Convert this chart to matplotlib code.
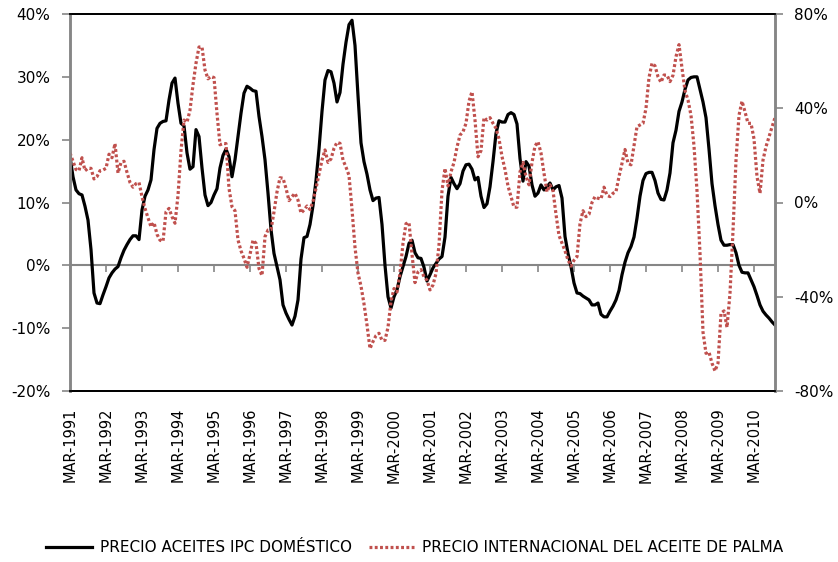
import matplotlib
matplotlib.use("Agg")
import matplotlib.pyplot as plt
from matplotlib.ticker import FuncFormatter

# monthly series, Mar-1991 .. Oct-2010 (% change)
ipc_aceites = [
    17.3, 14.1, 12.0, 11.4, 11.2, 9.4, 7.2, 2.5, -4.4, -6.0,
    -6.1, -4.7, -3.4, -2.0, -1.2, -0.6, -0.2, 1.2, 2.4, 3.3,
    4.1, 4.7, 4.7, 4.1, 8.8, 11.0, 12.0, 13.6, 18.4, 21.8,
    22.6, 22.9, 23.0, 26.3, 29.0, 29.8, 25.8, 22.6, 22.2, 17.9,
    15.3, 15.7, 21.6, 20.5, 15.5, 11.2, 9.5, 10.0, 11.2, 12.2,
    15.5, 17.5, 18.5, 17.3, 14.1, 16.8, 20.5, 24.2, 27.4, 28.5,
    28.2, 27.8, 27.7, 23.7, 20.5, 16.8, 11.5, 5.7, 1.9, -0.2,
    -2.3, -6.3, -7.6, -8.6, -9.5, -8.1, -5.5, 1.0, 4.4, 4.6,
    6.5, 9.5, 13.5, 18.5, 24.5, 29.5, 31.0, 30.8, 29.0, 26.0,
    27.5, 32.0, 35.5, 38.3, 39.0, 35.0, 27.0, 19.5, 16.5, 14.5,
    12.0, 10.3, 10.7, 10.8, 6.5, 0.0, -5.0, -6.8, -5.0, -3.9,
    -1.8, -0.2, 1.4, 3.5, 4.0, 2.0, 1.2, 1.1, -0.3, -2.5,
    -1.5, -0.4, 0.3, 1.0, 1.4, 4.5, 11.0, 14.0, 13.0, 12.2,
    13.0, 15.0, 16.0, 16.1, 15.3, 13.6, 14.0, 11.0, 9.2, 9.8,
    12.5, 16.5, 21.0, 23.0, 22.8, 22.8, 24.0, 24.3, 24.0, 22.5,
    17.0, 13.4, 16.5, 15.8, 12.8, 11.0, 11.5, 12.8, 12.0, 12.5,
    13.1, 12.0, 12.5, 12.7, 10.7, 4.6, 1.9, -0.2, -2.8, -4.4,
    -4.5, -4.9, -5.2, -5.5, -6.3, -6.3, -6.0, -7.8, -8.2, -8.2,
    -7.3, -6.5, -5.5, -4.0, -1.5, 0.5, 2.0, 3.0, 4.5, 7.5,
    11.0, 13.5, 14.6, 14.8, 14.8, 13.5, 11.5, 10.5, 10.4, 12.0,
    14.7, 19.5, 21.5, 24.5, 26.0, 28.0, 29.5, 29.9, 30.0, 30.0,
    28.0, 26.0, 23.5, 18.5, 13.0, 9.5, 6.5, 4.0, 3.2, 3.2,
    3.3, 3.3, 2.0, 0.0, -1.1, -1.2, -1.2, -2.3, -3.4, -4.8,
    -6.3, -7.3, -7.9, -8.4, -9.0, -9.5,
]

palma = [
    21.0, 17.5, 14.0, 13.5, 19.0, 13.5, 14.5, 14.5, 10.0, 11.0,
    13.5, 13.8, 14.5, 20.5, 19.0, 25.0, 12.5, 17.0, 17.5, 12.8,
    8.5, 6.5, 8.0, 8.5, 2.5, -2.5, -6.5, -10.3, -8.5, -13.5,
    -16.0, -16.5, -4.0, -2.5, -6.0, -8.8, 3.0, 22.0, 35.0, 34.0,
    39.2, 50.0, 59.1, 66.0, 66.0, 56.2, 52.5, 53.5, 53.0, 37.8,
    24.5, 25.0, 25.0, 6.0, -1.8, -3.5, -15.9, -20.5, -23.7, -27.5,
    -22.0, -16.0, -17.3, -28.0, -31.0, -14.5, -11.7, -11.5, -4.0, 4.5,
    10.5, 10.3, 6.0, 0.8, 2.5, 3.9, 1.0, -4.5, -3.2, -1.5,
    -3.0, 0.5, 6.0, 12.0, 18.0, 22.3, 17.0, 18.5, 23.0, 25.5,
    25.1, 18.0, 15.0, 11.5, -3.0, -19.0, -30.0, -35.5, -43.0, -52.0,
    -62.0, -59.0, -56.5, -55.5, -58.5, -58.5, -53.0, -42.0, -36.5, -38.0,
    -30.0, -17.3, -9.0, -8.5, -22.0, -34.0, -29.5, -28.5, -31.5, -33.0,
    -37.1, -35.0, -30.1, -18.0, 5.0, 14.5, 7.0, 13.0, 17.0, 23.5,
    28.6, 30.0, 33.6, 43.0, 47.0, 35.0, 19.4, 22.0, 36.0, 35.0,
    36.0, 33.6, 31.5, 27.0, 19.5, 14.0, 7.0, 2.5, -2.0, -2.0,
    13.0, 17.0, 11.0, 7.5, 17.0, 24.0, 25.8, 21.0, 12.4, 4.5,
    7.5, 5.0, -5.0, -14.0, -17.3, -20.5, -24.4, -27.0, -24.5, -23.0,
    -9.0, -3.5, -6.0, -5.0, 0.0, 2.5, 1.8, 1.5, 6.5, 3.0,
    2.5, 3.9, 4.6, 11.0, 16.6, 22.5, 16.6, 16.0, 24.0, 32.2,
    32.9, 33.6, 40.0, 53.0, 59.1, 58.0, 53.4, 51.0, 54.1, 54.0,
    51.3, 54.0, 61.9, 67.0, 57.0, 47.5, 43.5, 37.0, 24.0, 5.0,
    -21.6, -55.0, -64.0, -63.5, -68.2, -71.5, -68.2, -47.0, -46.0, -53.0,
    -38.5, -12.0, 18.0, 37.0, 43.0, 38.5, 33.6, 33.6, 27.0, 11.0,
    3.9, 18.0, 23.7, 27.9, 32.0, 36.0,
]

years = list(range(1991, 2011))
tick_labels = [f"Mar-{y}" for y in years]
legend_labels = ["Precio aceites IPC doméstico",
                 "Precio internacional del aceite de palma"]

GREY = "#868686"
RED = "#C0504D"

months = range(len(ipc_aceites))
tick_pos = [12 * k for k in range(len(years))]
pct = FuncFormatter(lambda v, _: f"{v:.0f}%")

fig = plt.figure(figsize=(8.38, 5.62), dpi=100)
ax = fig.add_axes([70 / 838, 171 / 562, 705 / 838, 377 / 562])
ax2 = ax.twinx()

l1, = ax.plot(months, ipc_aceites, color="black", lw=2.3, solid_joinstyle="round")
l2, = ax2.plot(months, palma, color=RED, lw=2.3, linestyle=(0, (0.9, 0.75)))

ax.set_xlim(0, len(ipc_aceites) - 1)
ax.set_ylim(-20, 40)
ax2.set_ylim(-80, 80)
ax.set_yticks(range(-20, 41, 10))
ax2.set_yticks(range(-80, 81, 40))
ax.yaxis.set_major_formatter(pct)
ax2.yaxis.set_major_formatter(pct)

ax.set_xticks(tick_pos)
ax.set_xticklabels([t.upper() for t in tick_labels], rotation=90, fontsize=10.5)
ax.tick_params(axis="x", length=0, pad=12)
ax.tick_params(axis="y", direction="out", length=6, width=1.2, color=GREY,
               labelsize=11, pad=8)
ax2.tick_params(axis="y", direction="out", length=6, width=1.2, color=GREY,
                labelsize=11, pad=8)

# zero line with year ticks
zero = ax.secondary_xaxis(1 / 3)
zero.set_xticks(tick_pos)
zero.set_xticklabels([])
zero.xaxis.set_ticks_position("bottom")
zero.tick_params(axis="x", direction="out", length=5, width=1.2, color=GREY)
zero.spines["top"].set_visible(False)
zero.spines["bottom"].set_visible(True)
zero.spines["bottom"].set_color(GREY)
zero.spines["bottom"].set_linewidth(1.5)

for a in (ax, ax2):
    for side in ("top", "bottom"):
        a.spines[side].set_color("black")
        a.spines[side].set_linewidth(1.3)
    for side in ("left", "right"):
        a.spines[side].set_color(GREY)
        a.spines[side].set_linewidth(1.8)

fig.legend([l1, l2], [s.upper() for s in legend_labels], loc="lower center",
           bbox_to_anchor=(0.495, -0.012), ncol=2, frameon=False, fontsize=11,
           handlelength=3.0, handletextpad=0.5, columnspacing=1.1)

fig.savefig("out.png", dpi=100)
